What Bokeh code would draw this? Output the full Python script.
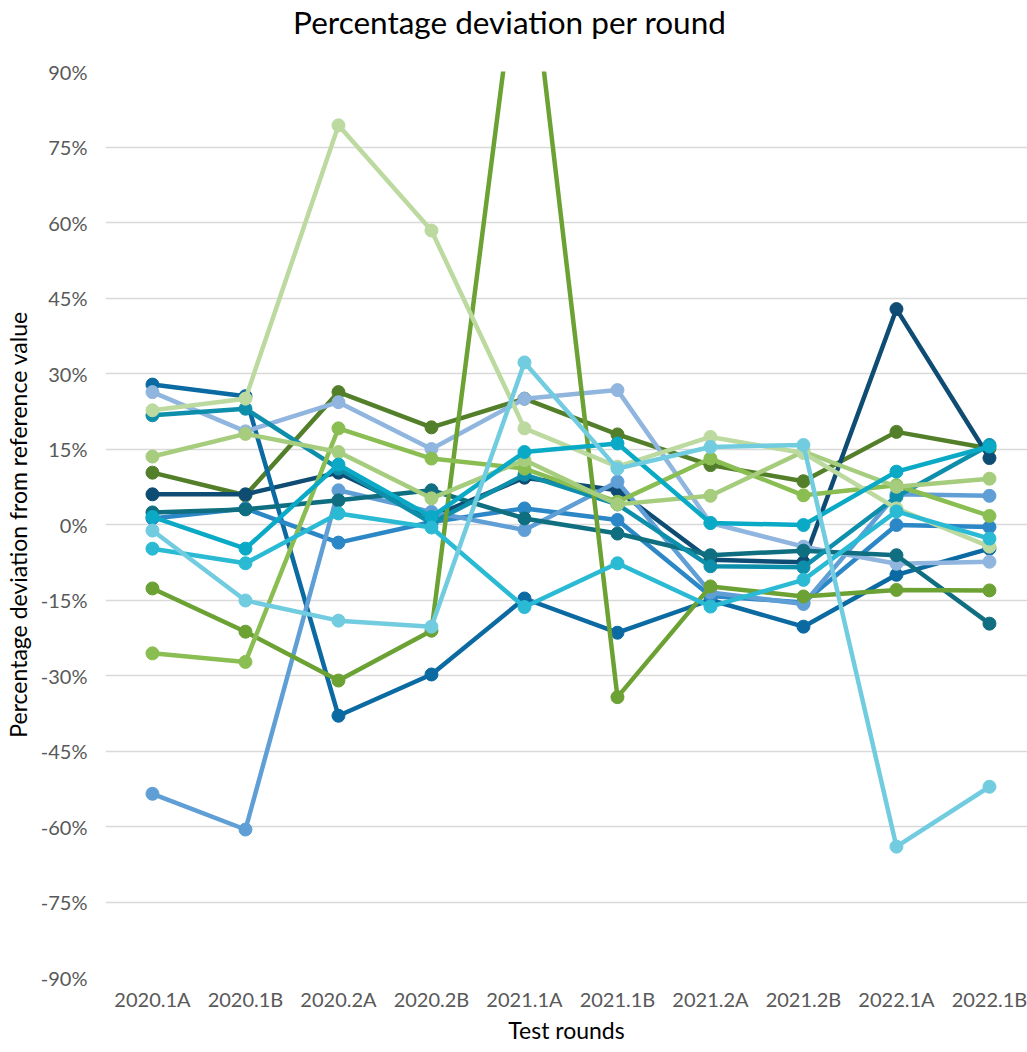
from bokeh.plotting import figure
from bokeh.models import ColumnDataSource, Range1d, FixedTicker, Div
from bokeh.layouts import column
from bokeh.embed import file_html
from bokeh.resources import INLINE

rounds = ["2020.1A", "2020.1B", "2020.2A", "2020.2B", "2021.1A",
          "2021.1B", "2021.2A", "2021.2B", "2022.1A", "2022.1B"]

y_ticks = [-90, -75, -60, -45, -30, -15, 0, 15, 30, 45, 60, 75, 90]

darkgreen = [10.3, 5.8, 26.3, 19.3, 25.0, 17.9, 11.8, 8.6, 18.4, 15.1]
green = [-12.7, -21.3, -31.0, -21.1, 123.0, -34.3, -12.3, -14.3, -13.0, -13.1]
lightgreen = [-25.6, -27.3, 19.1, 13.1, 11.1, 4.5, 13.1, 5.8, 7.8, 1.7]
lightgreen2 = [13.5, 18.0, 14.4, 5.2, 12.8, 4.0, 5.7, 14.5, 7.5, 9.1]
palegreen = [22.7, 25.0, 79.3, 58.4, 19.1, 11.5, 17.4, 14.2, 3.2, -4.4]
navy = [6.0, 6.0, 10.3, 1.5, 9.3, 6.8, -7.0, -7.5, 42.8, 13.2]
blue = [27.8, 25.5, -38.0, -29.8, -14.7, -21.5, -15.0, -20.3, -10.0, -4.8]
medblue = [1.2, 3.2, -3.6, 0.5, 3.2, 0.9, -14.2, -15.5, -0.1, -0.5]
steelblue = [-53.5, -60.6, 6.8, 2.5, -1.1, 8.5, -13.5, -15.8, 6.0, 5.7]
paleblue = [26.3, 18.5, 24.3, 15.0, 25.0, 26.7, 0.3, -4.4, -7.8, -7.4]
darkteal = [2.4, 3.0, 4.8, 6.8, 1.2, -1.8, -6.1, -5.2, -6.1, -19.7]
teal = [21.7, 23.0, 11.1, 0.3, 9.9, 4.0, -8.3, -8.5, 5.5, 15.8]
cyan = [1.5, -4.8, 11.9, 1.5, 14.4, 16.1, 0.3, -0.1, 10.5, 15.5]
lightcyan = [-4.8, -7.7, 2.2, -0.6, -16.4, -7.7, -16.3, -11.0, 2.6, -2.8]
palecyan = [-1.2, -15.1, -19.1, -20.3, 32.2, 11.1, 15.4, 15.8, -64.0, -52.1]

series = [
    (darkgreen, "#537f2a"),
    (navy, "#0f4c73"),
    (blue, "#0b6aa2"),
    (medblue, "#2c87c6"),
    (steelblue, "#609fd6"),
    (paleblue, "#90b5de"),
    (darkteal, "#0f6f80"),
    (teal, "#0d8eab"),
    (green, "#6ca134"),
    (lightgreen, "#8bbe52"),
    (lightgreen2, "#a6cd7d"),
    (palegreen, "#bcdaa0"),
    (cyan, "#0aaac7"),
    (lightcyan, "#2bbad4"),
    (palecyan, "#72cce0"),
]

FONT = "Lato"

title = Div(text=('<div style="font-family: Lato; font-size: 31.5px; color: #000000; '
                  'text-align: center; line-height: 44px; width: 1003px; '
                  'padding-left: 16px;">'
                  'Percentage deviation per round</div>'),
            width=1019, height=44, margin=0)

p = figure(frame_width=922, frame_height=906,
           output_backend="svg", toolbar_location=None,
           x_range=Range1d(-0.505, 9.409), y_range=Range1d(-90, 90),
           min_border_left=97, min_border_right=0, min_border_top=27,
           min_border_bottom=56, margin=0)
p.outline_line_color = None
p.background_fill_color = "white"
p.border_fill_color = "white"

xs = list(range(len(rounds)))
for vals, col in series:
    src = ColumnDataSource(dict(x=xs, y=vals))
    p.line("x", "y", source=src, line_color=col, line_width=4.5, line_join="round")
    p.scatter("x", "y", source=src, size=13, fill_color=col, line_color=col)

p.xgrid.grid_line_color = None
p.ygrid.grid_line_color = "#d9d9d9"
p.ygrid.grid_line_width = 1.5
p.ygrid.ticker = FixedTicker(ticks=y_ticks)

p.yaxis.ticker = FixedTicker(ticks=y_ticks)
p.yaxis.major_label_overrides = {t: f"{t}%" for t in y_ticks}
p.xaxis.ticker = FixedTicker(ticks=xs)
p.xaxis.major_label_overrides = {i: r for i, r in enumerate(rounds)}

for ax in (p.xaxis, p.yaxis):
    ax.axis_line_color = None
    ax.major_tick_line_color = None
    ax.minor_tick_line_color = None
    ax.major_tick_out = 0
    ax.major_tick_in = 0
    ax.minor_tick_out = 0
    ax.minor_tick_in = 0
    ax.major_label_text_font = FONT
    ax.major_label_text_font_size = "20px"
    ax.major_label_text_color = "#595959"
    ax.axis_label_text_font = FONT
    ax.axis_label_text_font_size = "23px"
    ax.axis_label_text_font_style = "normal"
    ax.axis_label_text_color = "#000000"

p.yaxis.axis_label = "Percentage deviation from reference value"
p.yaxis.major_label_standoff = 18
p.yaxis.axis_label_standoff = 6
p.xaxis.axis_label = "Test rounds"
p.xaxis.major_label_standoff = 9
p.xaxis.axis_label_standoff = 2

layout = column(title, p, spacing=0)
open("out.html", "w").write(file_html(layout, INLINE))
